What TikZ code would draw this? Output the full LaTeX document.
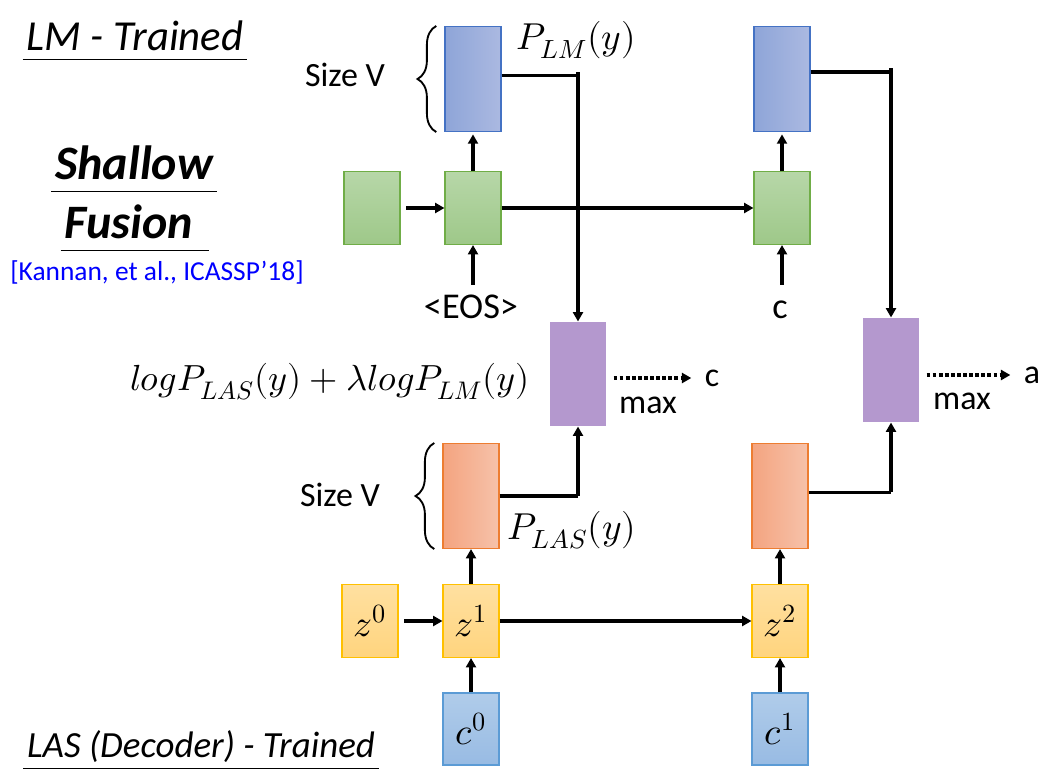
\documentclass[tikz,border=0pt]{standalone}
\usepackage{fontspec}
\usepackage{unicode-math}
\setmainfont{Carlito}
\setmathfont{Latin Modern Math}
\usetikzlibrary{arrows.meta,decorations.pathreplacing}

\definecolor{lmblueL}{RGB}{142,165,216}
\definecolor{lmblueR}{RGB}{171,185,225}
\definecolor{lmedge}{RGB}{68,114,196}
\definecolor{rnngreenT}{RGB}{183,215,168}
\definecolor{rnngreenB}{RGB}{158,200,137}
\definecolor{rnnedge}{RGB}{112,173,71}
\definecolor{fuspurple}{RGB}{180,152,206}
\definecolor{outorangeL}{RGB}{244,164,128}
\definecolor{outorangeR}{RGB}{246,194,170}
\definecolor{outedge}{RGB}{237,125,49}
\definecolor{decyellowT}{RGB}{255,224,160}
\definecolor{decyellowB}{RGB}{255,212,126}
\definecolor{decedge}{RGB}{255,192,0}
\definecolor{ctxblueT}{RGB}{176,204,234}
\definecolor{ctxblueB}{RGB}{152,187,227}
\definecolor{ctxedge}{RGB}{91,155,213}
\definecolor{refblue}{RGB}{0,0,255}

\newcommand{\sizelbl}{\fontsize{29}{34}\selectfont}
\newcommand{\sizetok}{\fontsize{31}{36}\selectfont}
\newcommand{\sizemath}{\fontsize{32}{38}\selectfont}
\newcommand{\sizescore}{\fontsize{31}{37}\selectfont}
\newcommand{\sizecell}{\fontsize{32}{38}\selectfont}
\newcommand{\sizetitle}{\fontsize{36.5}{42}\selectfont}
\newcommand{\sizelas}{\fontsize{31.5}{37}\selectfont}
\newcommand{\sizebig}{\fontsize{41}{48}\selectfont}
\newcommand{\sizecite}{\fontsize{23.4}{28}\selectfont}

\begin{document}
\begin{tikzpicture}[x=0.03cm, y=-0.03cm,
  >={Triangle[length=8pt,width=8.5pt]},
  cell/.style={minimum width=1.68cm, inner sep=0pt, line width=0.9pt},
  lmcell/.style={cell, minimum height=3.15cm, left color=lmblueL, right color=lmblueR, draw=lmedge},
  rnncell/.style={cell, minimum height=2.19cm, top color=rnngreenT, bottom color=rnngreenB, draw=rnnedge},
  fuscell/.style={cell, minimum height=3.12cm, fill=fuspurple},
  outcell/.style={cell, minimum height=3.15cm, left color=outorangeL, right color=outorangeR, draw=outedge},
  deccell/.style={cell, minimum height=2.19cm, top color=decyellowT, bottom color=decyellowB, draw=decedge, font=\sizecell},
  ctxcell/.style={cell, minimum height=2.16cm, top color=ctxblueT, bottom color=ctxblueB, draw=ctxedge, font=\sizecell},
  token/.style={font=\sizetok, text height=21pt, text depth=4pt, inner xsep=3pt, inner ysep=8pt},
  link/.style={->, line width=3.2pt},
  wire/.style={line width=3.2pt},
  pick/.style={->, dotted, line width=3.2pt},
  rule/.style={line width=1.1pt},
  sizebrace/.style={decorate, decoration={brace, amplitude=16pt}, line width=1.6pt}]
\useasboundingbox (0,0) rectangle (1049,781);

% language model
\node[lmcell] (lmA) at (473,79) {};
\node[lmcell] (lmB) at (782,79) {};
\node[rnncell] (rnn0) at (372,208) {};
\node[rnncell] (rnnA) at (473,208) {};
\node[rnncell] (rnnB) at (782,208) {};
\node[token] (eos) at (471,309) {<EOS>};
\node[token] (tokA) at (780,309) {c};

% fusion
\node[fuscell] (fusA) at (578,374) {};
\node[fuscell] (fusB) at (891,370) {};
\node[font=\sizelbl] (outTokA) at (712,378) {c};
\node[font=\sizelbl] (outTokB) at (1032,375) {a};
\node[font=\sizelbl] (maxA) at (648,405) {max};
\node[font=\sizelbl] (maxB) at (962,401) {max};

% LAS decoder
\node[outcell] (outA) at (471,496) {};
\node[outcell] (outB) at (780,496) {};
\node[deccell] (z0) at (370,621) {$z^0$};
\node[deccell] (z1) at (471,621) {$z^1$};
\node[deccell] (z2) at (780,621) {$z^2$};
\node[ctxcell] (c0) at (471,729) {$c^0$};
\node[ctxcell] (c1) at (780,729) {$c^1$};

% labels
\node[font=\sizemath] (plm) at (576,40) {$P_{LM}(y)$};
\node[font=\sizemath] (plas) at (572,530) {$P_{LAS}(y)$};
\node[font=\sizescore] (score) at (330,382) {$logP_{LAS}(y)+\lambda logP_{LM}(y)$};
\node[font=\sizelbl] (sizeA) at (345,75) {Size V};
\node[font=\sizelbl] (sizeB) at (340,495) {Size V};
\draw[sizebrace] ([xshift=-7pt]lmA.south west) -- ([xshift=-7pt]lmA.north west);
\draw[sizebrace] ([xshift=-7pt]outA.south west) -- ([xshift=-7pt]outA.north west);

% titles
\node[font=\sizetitle\itshape] (lmTitle) at (135,36) {LM - Trained};
\draw[rule] ([yshift=-4pt]lmTitle.south west) -- ([yshift=-4pt]lmTitle.south east);
\node[font=\sizebig\bfseries\itshape] (shallow) at (134,163) {Shallow};
\draw[rule] ([yshift=-6pt]shallow.south west) -- ([yshift=-6pt]shallow.south east);
\node[font=\sizebig\bfseries\itshape] (fusion) at (129,222) {Fusion};
\draw[rule] ([yshift=-6pt]fusion.south west) -- ([xshift=10pt,yshift=-6pt]fusion.south east);
\node[font=\sizecite, text=refblue] (cite) at (157,272) {[Kannan, et al., ICASSP’18]};
\node[font=\sizelas\itshape] (lasTitle) at (201,747) {LAS (Decoder) - Trained};
\draw[rule] ([yshift=-1pt]lasTitle.south west) -- ([yshift=-1pt]lasTitle.south east);

% connections
\draw[link, shorten <=5pt] (rnn0) -- (rnnA);
\draw[link] (rnnA) -- (rnnB);
\draw[link, shorten >=2pt] (rnnA) -- (lmA);
\draw[link, shorten >=2pt] (rnnB) -- (lmB);
\draw[link] (eos.north -| rnnA) -- (rnnA);
\draw[link] (tokA.north -| rnnB) -- (rnnB);
\coordinate (tapA) at (578,72);
\coordinate (tapB) at (891,68);
\draw[wire] ([yshift=3pt]lmA.east) -- ([yshift=3pt]lmA.east -| tapA);
\draw[wire] ([yshift=6pt]lmB.east) -- ([yshift=6pt]lmB.east -| tapB);
\draw[link] (tapA) -- (fusA);
\draw[link] (tapB) -- (fusB);
\draw[wire] (outA.east) -- (outA.east -| fusA);
\draw[link] (outA.east -| fusA) -- (fusA);
\draw[wire] ([yshift=3pt]outB.east) -- ([yshift=3pt]outB.east -| fusB);
\draw[link] ([yshift=3pt]outB.east -| fusB) -- (fusB);
\draw[pick, shorten <=6pt, shorten >=8pt] (fusA.east |- outTokA) -- (outTokA);
\draw[pick, shorten <=6pt, shorten >=8pt] (fusB.east |- outTokB) -- (outTokB);
\draw[link, shorten <=5pt] (z0) -- (z1);
\draw[link] (z1) -- (z2);
\draw[link] (z1) -- (outA);
\draw[link] (z2) -- (outB);
\draw[link] (c0) -- (z1);
\draw[link] (c1) -- (z2);
\end{tikzpicture}
\end{document}
